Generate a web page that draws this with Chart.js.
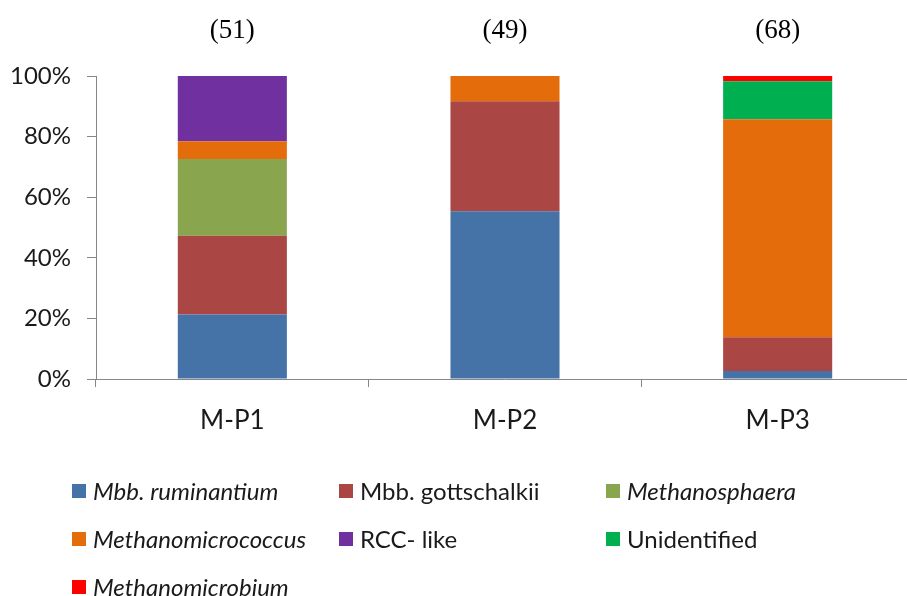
<!DOCTYPE html>
<html>
<head>
<meta charset="utf-8">
<script src="https://cdn.jsdelivr.net/npm/chart.js"></script>
<style>
  body {
    margin: 0;
    background: #fff;
    overflow: hidden;
    font-family: Lato, sans-serif;
  }
  .wrap {
    position: relative;
    width: 914px;
    height: 460px;
  }
  .legend {
    position: absolute;
    left: 0;
    top: 0;
    width: 907px;
    height: 596px;
    pointer-events: none;
  }
  .item {
    position: absolute;
    height: 14px;
    font-size: 24px;
    color: #1a1a1a;
    white-space: nowrap;
  }
  .item .box {
    position: absolute;
    left: 0;
    top: 0;
    width: 14px;
    height: 14px;
  }
  .item span.txt {
    position: absolute;
    left: 21px;
    top: 7px;
    transform: translateY(-50%);
    line-height: 1;
  }
  .it { font-style: italic; }
</style>
</head>
<body>

<div class="wrap">
  <canvas id="chart" width="914" height="460"></canvas>
</div>
<div class="legend" id="legend"></div>

<script>
// ==========================
// DATA (% of clones)
// ==========================
const categories = ["M-P1", "M-P2", "M-P3"];
const cloneCounts = [51, 49, 68];

const mbbRuminantium = [21.3, 55.4, 2.6];
const mbbGottschalkii = [26.0, 36.3, 11.2];
const methanosphaera = [25.3, 0, 0];
const methanomicrococcus = [5.9, 8.3, 71.9];
const rccLike = [21.5, 0, 0];
const unidentified = [0, 0, 12.6];
const methanomicrobium = [0, 0, 1.7];

const yTicks = [0, 20, 40, 60, 80, 100];

const series = [
  { label: "Mbb. ruminantium", data: mbbRuminantium, color: "#4572A7", italic: true },
  { label: "Mbb. gottschalkii", data: mbbGottschalkii, color: "#AA4643", italic: false },
  { label: "Methanosphaera", data: methanosphaera, color: "#89A54E", italic: true },
  { label: "Methanomicrococcus", data: methanomicrococcus, color: "#E46C0A", italic: true },
  { label: "RCC- like", data: rccLike, color: "#7030A0", italic: false },
  { label: "Unidentified", data: unidentified, color: "#00B050", italic: false },
  { label: "Methanomicrobium", data: methanomicrobium, color: "#FF0000", italic: true },
];

// clone numbers above each bar
const countLabels = {
  id: "countLabels",
  afterDraw(chart) {
    const ctx = chart.ctx;
    const xs = chart.scales.x;
    ctx.save();
    ctx.font = "27px 'Liberation Serif', 'Times New Roman', serif";
    ctx.fillStyle = "#000";
    ctx.textAlign = "center";
    ctx.textBaseline = "middle";
    cloneCounts.forEach((n, i) => {
      ctx.fillText("(" + n + ")", xs.getPixelForValue(i), 31);
    });
    ctx.restore();
  }
};

new Chart(document.getElementById("chart"), {
  type: "bar",
  data: {
    labels: categories,
    datasets: series.map((s) => ({
      label: s.label,
      data: s.data,
      backgroundColor: s.color,
      borderWidth: 0,
      barPercentage: 0.4,
      categoryPercentage: 1.0
    }))
  },
  options: {
    responsive: false,
    animation: false,
    layout: { padding: { top: 76, left: 0, right: 0, bottom: 0 } },
    plugins: {
      legend: { display: false },
      tooltip: { enabled: false }
    },
    scales: {
      x: {
        stacked: true,
        grid: {
          display: true,
          drawOnChartArea: false,
          tickLength: 8,
          color: "#868686",
          offset: true
        },
        border: { color: "#868686", width: 1 },
        ticks: {
          padding: 18,
          color: "#1a1a1a",
          font: { family: "Lato", size: 26 }
        },
        afterFit(scale) { scale.height = 81; }
      },
      y: {
        stacked: true,
        min: 0,
        max: 100,
        afterBuildTicks(scale) {
          scale.ticks = yTicks.map((v) => ({ value: v }));
        },
        grid: {
          display: true,
          drawOnChartArea: false,
          tickLength: 9,
          color: "#868686"
        },
        border: { color: "#868686", width: 1 },
        ticks: {
          padding: 16,
          color: "#1a1a1a",
          font: { family: "Lato", size: 24 },
          callback: (v) => v + "%"
        },
        afterFit(scale) { scale.width = 96; }
      }
    }
  },
  plugins: [countLabels]
});

// ==========================
// LEGEND (mixed italic, so built in HTML)
// ==========================
const legendCols = [72, 339, 606];
const legendRows = [484, 532, 580];
const legendEl = document.getElementById("legend");
series.forEach((s, i) => {
  const div = document.createElement("div");
  div.className = "item";
  div.style.left = legendCols[i % 3] + "px";
  div.style.top = legendRows[Math.floor(i / 3)] + "px";
  div.innerHTML =
    '<div class="box" style="background:' + s.color + '"></div>' +
    '<span class="txt' + (s.italic ? " it" : "") + '">' + s.label + "</span>";
  legendEl.appendChild(div);
});
</script>

</body>
</html>
